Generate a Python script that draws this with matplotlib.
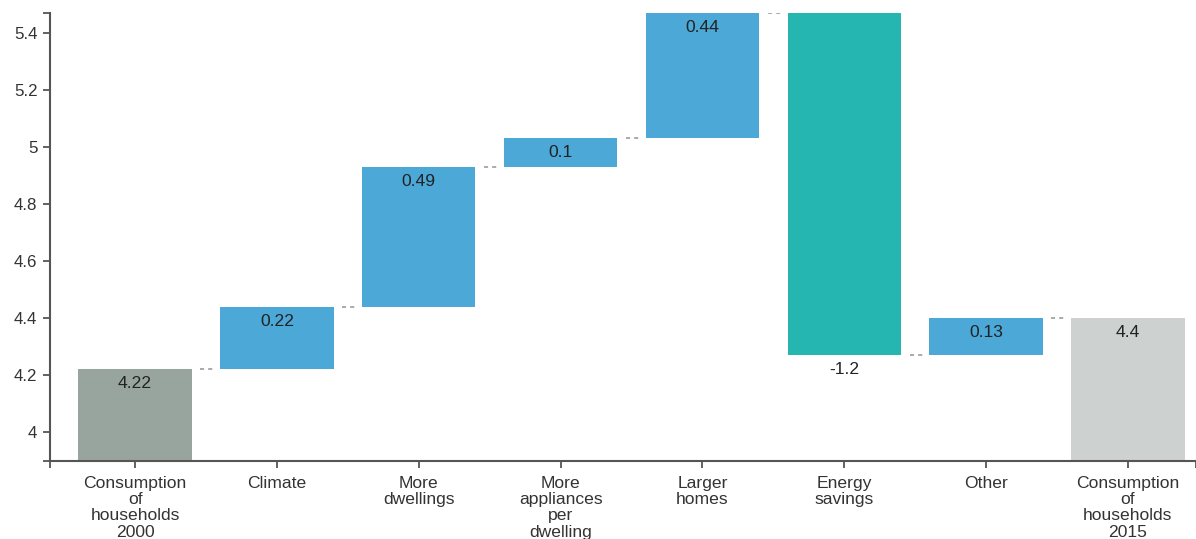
import matplotlib
matplotlib.use("Agg")
import matplotlib.pyplot as plt
from matplotlib.ticker import FixedLocator

# ---- data ----
categories = [
    "Consumption\nof\nhouseholds\n2000",
    "Climate",
    "More\ndwellings",
    "More\nappliances\nper\ndwelling",
    "Larger\nhomes",
    "Energy\nsavings",
    "Other",
    "Consumption\nof\nhouseholds\n2015",
]
values = [4.22, 0.22, 0.49, 0.1, 0.44, -1.2, 0.13, 4.4]
is_total = [True, False, False, False, False, False, False, True]
yticks = [4.0, 4.2, 4.4, 4.6, 4.8, 5.0, 5.2, 5.4]
ytick_labels = ["4", "4.2", "4.4", "4.6", "4.8", "5", "5.2", "5.4"]

# ---- style ----
c_start = "#98A59F"
c_end = "#CDD2D0"
c_up = "#4BA8D7"
c_down = "#26B6B2"
axis_col = "#555555"
text_col = "#333333"

plt.rcParams["font.family"] = ["Liberation Sans", "DejaVu Sans"]

fig = plt.figure(figsize=(11.96, 5.39), dpi=100)
ax = fig.add_axes([50 / 1196, 1 - 461 / 539, 1146 / 1196, (461 - 13) / 539])

width = 0.8
bottoms, heights, colors, ends = [], [], [], []
running = 0.0
for i, (v, tot) in enumerate(zip(values, is_total)):
    if tot:
        bottoms.append(0.0)
        heights.append(v)
        colors.append(c_start if i == 0 else c_end)
        running = v
    else:
        bottoms.append(running)
        heights.append(v)
        colors.append(c_up if v >= 0 else c_down)
        running = running + v
    ends.append(running)

x = list(range(len(categories)))
ax.bar(x, heights, bottom=bottoms, width=width, color=colors, linewidth=0, zorder=2)

# connectors
for i in range(len(values) - 1):
    ax.plot([i + width / 2 + 0.06, i + width / 2 + 0.155], [ends[i], ends[i]],
            color="#AAAAAA", lw=1.4, linestyle=(0, (2.1, 2.1)), zorder=1,
            solid_capstyle="butt", dash_capstyle="butt")

# value labels
for i, v in enumerate(values):
    yref = bottoms[i] + heights[i]
    ax.annotate(f"{v:g}", xy=(i, yref), xytext=(0, -10.5), textcoords="offset points",
                ha="center", va="center", fontsize=12.6, color="#222222", zorder=3)

ax.set_xlim(-0.6, 7.48)
ax.set_ylim(3.898, 5.47)

ax.set_xticks(x)
ax.set_xticklabels(categories, fontsize=12.6, color=text_col, linespacing=1.12)
ax.set_yticks(yticks)
ax.set_yticklabels(ytick_labels, fontsize=12.2, color=text_col)

ax.xaxis.set_minor_locator(FixedLocator([-0.6, 7.48]))
ax.yaxis.set_minor_locator(FixedLocator([3.898, 5.47]))
ax.tick_params(axis="both", which="both", length=5, width=1.3, color=axis_col)
ax.tick_params(axis="x", which="major", pad=5.5)
ax.tick_params(axis="y", which="major", pad=4)

for s in ["top", "right"]:
    ax.spines[s].set_visible(False)
for s in ["left", "bottom"]:
    ax.spines[s].set_color(axis_col)
    ax.spines[s].set_linewidth(1.5)

fig.savefig("out.png", dpi=100)
